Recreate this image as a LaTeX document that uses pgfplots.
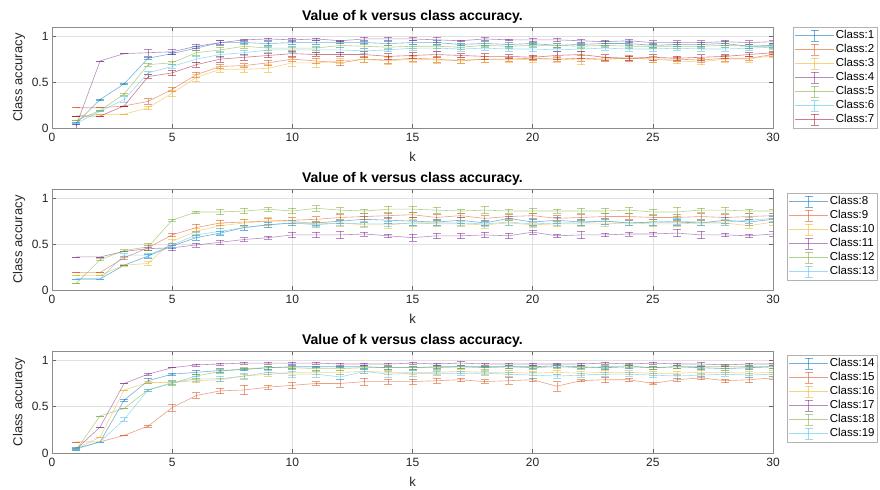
\documentclass[border=0pt]{standalone}
\usepackage{pgfplots}
\pgfplotsset{compat=1.18}
\usepackage{fontspec}
\setmainfont{Liberation Sans}
\definecolor{m1}{rgb}{0,0.447,0.741}
\definecolor{m2}{rgb}{0.85,0.325,0.098}
\definecolor{m3}{rgb}{0.929,0.694,0.125}
\definecolor{m4}{rgb}{0.494,0.184,0.556}
\definecolor{m5}{rgb}{0.466,0.674,0.188}
\definecolor{m6}{rgb}{0.301,0.745,0.933}
\definecolor{m7}{rgb}{0.635,0.078,0.184}
\pgfplotscreateplotcyclelist{mat}{m1\\m2\\m3\\m4\\m5\\m6\\m7\\}
\pgfplotsset{panel/.style={
  scale only axis, width=721bp, height=101bp,
  xmin=0, xmax=30, ymin=0, ymax=1.1,
  xtick={0,5,...,30}, ytick={0,0.5,1},
  grid=major, major grid style={black!12, line width=0.5bp},
  axis line style={black!45, line width=0.5bp},
  every tick/.style={black!60, line width=0.5bp},
  tick align=inside, major tick length=4bp,
  /pgf/number format/assume math mode=true,
  ticklabel style={font=\fontsize{12bp}{14bp}\selectfont, text=black!85},
  xticklabel style={yshift=-2bp},
  title={Value of k versus class accuracy.},
  title style={font=\fontsize{14bp}{16bp}\selectfont\bfseries, yshift=-6bp},
  xlabel={k}, ylabel={Class accuracy},
  label style={font=\fontsize{13bp}{15bp}\selectfont, text=black!85},
  xlabel style={yshift=-3bp},
  cycle list name=mat, no markers,
  every axis plot/.append style={line width=0.6bp, opacity=0.55},
  error bars/y dir=both, error bars/y explicit,
  error bars/error mark options={rotate=90, mark size=4bp, line width=0.6bp},
  legend cell align=left,
  legend style={draw=black!30, line width=0.5bp, fill=white,
    font=\fontsize{11.5bp}{13bp}\selectfont, anchor=north west, inner sep=1.5bp,
    nodes={inner sep=1.5bp, text height=8.5bp, text depth=2.5bp}},
  legend image code/.code={
    \draw[##1] (0bp,0bp) -- (39bp,0bp);
    \draw[##1] (19.5bp,-5.5bp) -- (19.5bp,5.5bp);
    \draw[##1] (15.5bp,-5.5bp) -- (23.5bp,-5.5bp);
    \draw[##1] (15.5bp,5.5bp) -- (23.5bp,5.5bp);
  },
}}
\begin{document}
\begin{tikzpicture}
\useasboundingbox (0,0) rectangle (880bp,490bp);
% ---------------- Panel 1 ----------------
\begin{axis}[panel, at={(52bp,362bp)}, anchor=south west,
  legend style={at={(1,1)}, xshift=20bp}]
\addplot coordinates {(1,.05)+-(0,.01) (2,.31)+-(0,.005) (3,.48)+-(0,.005) (4,.76)+-(0,.01) (5,.81)+-(0,.01) (6,.87)+-(0,.02) (7,.93)+-(0,.02) (8,.93)+-(0,.01) (9,.92)+-(0,.02) (10,.93)+-(0,.02) (11,.93)+-(0,.02) (12,.93)+-(0,.01) (13,.93)+-(0,.01) (14,.92)+-(0,.02) (15,.93)+-(0,.02) (16,.93)+-(0,.02) (17,.91)+-(0,.01) (18,.92)+-(0,.02) (19,.91)+-(0,.02) (20,.92)+-(0,.01) (21,.90)+-(0,.02) (22,.91)+-(0,.01) (23,.92)+-(0,.02) (24,.92)+-(0,.02) (25,.90)+-(0,.02) (26,.91)+-(0,.02) (27,.91)+-(0,.02) (28,.92)+-(0,.02) (29,.89)+-(0,.02) (30,.90)+-(0,.02)};
\addlegendentry{Class:1}
\addplot coordinates {(1,.22)+-(0,0) (2,.22)+-(0,0) (3,.24)+-(0,0) (4,.29)+-(0,.03) (5,.42)+-(0,.02) (6,.58)+-(0,.03) (7,.67)+-(0,.02) (8,.68)+-(0,.02) (9,.71)+-(0,.03) (10,.75)+-(0,.02) (11,.73)+-(0,.03) (12,.71)+-(0,.03) (13,.75)+-(0,.03) (14,.74)+-(0,.04) (15,.76)+-(0,.03) (16,.75)+-(0,.03) (17,.73)+-(0,.02) (18,.75)+-(0,.03) (19,.75)+-(0,.02) (20,.76)+-(0,.02) (21,.75)+-(0,.02) (22,.76)+-(0,.03) (23,.75)+-(0,.02) (24,.76)+-(0,.03) (25,.75)+-(0,.03) (26,.75)+-(0,.02) (27,.74)+-(0,.02) (28,.76)+-(0,.03) (29,.76)+-(0,.02) (30,.80)+-(0,.02)};
\addlegendentry{Class:2}
\addplot coordinates {(1,.13)+-(0,0) (2,.15)+-(0,0) (3,.15)+-(0,0) (4,.22)+-(0,.02) (5,.38)+-(0,.03) (6,.55)+-(0,.04) (7,.64)+-(0,.03) (8,.64)+-(0,.03) (9,.65)+-(0,.04) (10,.71)+-(0,.04) (11,.71)+-(0,.05) (12,.73)+-(0,.03) (13,.75)+-(0,.03) (14,.73)+-(0,.04) (15,.75)+-(0,.03) (16,.74)+-(0,.04) (17,.74)+-(0,.03) (18,.75)+-(0,.03) (19,.74)+-(0,.02) (20,.75)+-(0,.03) (21,.75)+-(0,.03) (22,.74)+-(0,.05) (23,.75)+-(0,.02) (24,.76)+-(0,.02) (25,.75)+-(0,.03) (26,.73)+-(0,.03) (27,.72)+-(0,.03) (28,.75)+-(0,.03) (29,.75)+-(0,.03) (30,.79)+-(0,.02)};
\addlegendentry{Class:3}
\addplot coordinates {(1,.02)+-(0,.02) (2,.73)+-(0,0) (3,.81)+-(0,0) (4,.82)+-(0,.04) (5,.83)+-(0,.03) (6,.89)+-(0,.02) (7,.93)+-(0,.03) (8,.96)+-(0,.01) (9,.97)+-(0,.01) (10,.96)+-(0,.02) (11,.97)+-(0,.01) (12,.95)+-(0,.01) (13,.97)+-(0,.02) (14,.97)+-(0,.02) (15,.97)+-(0,.02) (16,.96)+-(0,.03) (17,.95)+-(0,.01) (18,.97)+-(0,.02) (19,.96)+-(0,.01) (20,.96)+-(0,.02) (21,.96)+-(0,.02) (22,.95)+-(0,.02) (23,.94)+-(0,.02) (24,.95)+-(0,.02) (25,.93)+-(0,.02) (26,.93)+-(0,.02) (27,.93)+-(0,.02) (28,.94)+-(0,.02) (29,.93)+-(0,.02) (30,.94)+-(0,.02)};
\addlegendentry{Class:4}
\addplot coordinates {(1,.08)+-(0,0) (2,.19)+-(0,0) (3,.37)+-(0,.01) (4,.69)+-(0,.02) (5,.71)+-(0,.02) (6,.82)+-(0,.03) (7,.85)+-(0,.03) (8,.89)+-(0,.02) (9,.87)+-(0,.02) (10,.87)+-(0,.02) (11,.87)+-(0,.02) (12,.90)+-(0,.02) (13,.89)+-(0,.02) (14,.88)+-(0,.02) (15,.89)+-(0,.02) (16,.89)+-(0,.02) (17,.88)+-(0,.02) (18,.90)+-(0,.02) (19,.89)+-(0,.02) (20,.90)+-(0,.02) (21,.90)+-(0,.02) (22,.89)+-(0,.02) (23,.90)+-(0,.02) (24,.89)+-(0,.02) (25,.89)+-(0,.02) (26,.89)+-(0,.02) (27,.89)+-(0,.02) (28,.90)+-(0,.02) (29,.89)+-(0,.02) (30,.89)+-(0,.02)};
\addlegendentry{Class:5}
\addplot coordinates {(1,.05)+-(0,0) (2,.18)+-(0,0) (3,.31)+-(0,.03) (4,.60)+-(0,.02) (5,.67)+-(0,.02) (6,.75)+-(0,.03) (7,.80)+-(0,.03) (8,.82)+-(0,.03) (9,.85)+-(0,.03) (10,.85)+-(0,.03) (11,.85)+-(0,.03) (12,.85)+-(0,.03) (13,.84)+-(0,.03) (14,.85)+-(0,.02) (15,.87)+-(0,.02) (16,.87)+-(0,.03) (17,.86)+-(0,.02) (18,.87)+-(0,.02) (19,.86)+-(0,.02) (20,.86)+-(0,.03) (21,.85)+-(0,.02) (22,.86)+-(0,.02) (23,.87)+-(0,.02) (24,.86)+-(0,.02) (25,.86)+-(0,.02) (26,.87)+-(0,.02) (27,.86)+-(0,.02) (28,.86)+-(0,.02) (29,.87)+-(0,.02) (30,.88)+-(0,.02)};
\addlegendentry{Class:6}
\addplot coordinates {(1,.13)+-(0,0) (2,.13)+-(0,0) (3,.24)+-(0,0) (4,.56)+-(0,.02) (5,.60)+-(0,.03) (6,.69)+-(0,.03) (7,.75)+-(0,.03) (8,.77)+-(0,.03) (9,.79)+-(0,.02) (10,.81)+-(0,.03) (11,.80)+-(0,.02) (12,.80)+-(0,.02) (13,.80)+-(0,.03) (14,.78)+-(0,.03) (15,.79)+-(0,.03) (16,.80)+-(0,.03) (17,.79)+-(0,.02) (18,.78)+-(0,.03) (19,.78)+-(0,.02) (20,.77)+-(0,.02) (21,.79)+-(0,.04) (22,.80)+-(0,.04) (23,.77)+-(0,.03) (24,.76)+-(0,.02) (25,.77)+-(0,.03) (26,.76)+-(0,.02) (27,.77)+-(0,.03) (28,.78)+-(0,.02) (29,.80)+-(0,.02) (30,.82)+-(0,.02)};
\addlegendentry{Class:7}
\end{axis}
% ---------------- Panel 2 ----------------
\begin{axis}[panel, at={(52bp,200bp)}, anchor=south west,
  legend style={at={(1,1)}, xshift=14bp, yshift=-4bp}]
\addplot coordinates {(1,.12)+-(0,0) (2,.12)+-(0,0) (3,.27)+-(0,0) (4,.37)+-(0,.02) (5,.48)+-(0,.03) (6,.57)+-(0,.03) (7,.62)+-(0,.02) (8,.68)+-(0,.03) (9,.71)+-(0,.03) (10,.73)+-(0,.03) (11,.73)+-(0,.02) (12,.75)+-(0,.02) (13,.77)+-(0,.03) (14,.76)+-(0,.03) (15,.75)+-(0,.04) (16,.74)+-(0,.03) (17,.76)+-(0,.03) (18,.73)+-(0,.03) (19,.78)+-(0,.02) (20,.74)+-(0,.03) (21,.76)+-(0,.03) (22,.74)+-(0,.03) (23,.75)+-(0,.03) (24,.73)+-(0,.03) (25,.74)+-(0,.03) (26,.74)+-(0,.03) (27,.73)+-(0,.03) (28,.76)+-(0,.03) (29,.74)+-(0,.03) (30,.77)+-(0,.03)};
\addlegendentry{Class:8}
\addplot coordinates {(1,.19)+-(0,0) (2,.19)+-(0,0) (3,.35)+-(0,.02) (4,.46)+-(0,.03) (5,.60)+-(0,.02) (6,.68)+-(0,.04) (7,.73)+-(0,.03) (8,.74)+-(0,.03) (9,.75)+-(0,.03) (10,.76)+-(0,.03) (11,.77)+-(0,.03) (12,.79)+-(0,.03) (13,.80)+-(0,.03) (14,.81)+-(0,.03) (15,.82)+-(0,.03) (16,.79)+-(0,.03) (17,.81)+-(0,.02) (18,.78)+-(0,.03) (19,.80)+-(0,.02) (20,.81)+-(0,.03) (21,.78)+-(0,.03) (22,.79)+-(0,.03) (23,.80)+-(0,.03) (24,.80)+-(0,.03) (25,.79)+-(0,.02) (26,.79)+-(0,.03) (27,.80)+-(0,.03) (28,.79)+-(0,.03) (29,.80)+-(0,.03) (30,.81)+-(0,.03)};
\addlegendentry{Class:9}
\addplot coordinates {(1,.16)+-(0,0) (2,.16)+-(0,0) (3,.27)+-(0,.01) (4,.29)+-(0,.02) (5,.53)+-(0,.02) (6,.64)+-(0,.03) (7,.70)+-(0,.03) (8,.73)+-(0,.04) (9,.75)+-(0,.04) (10,.75)+-(0,.04) (11,.72)+-(0,.03) (12,.73)+-(0,.04) (13,.71)+-(0,.03) (14,.71)+-(0,.04) (15,.73)+-(0,.04) (16,.72)+-(0,.03) (17,.72)+-(0,.03) (18,.71)+-(0,.04) (19,.73)+-(0,.03) (20,.71)+-(0,.03) (21,.72)+-(0,.03) (22,.72)+-(0,.03) (23,.72)+-(0,.03) (24,.73)+-(0,.03) (25,.72)+-(0,.03) (26,.72)+-(0,.03) (27,.73)+-(0,.03) (28,.73)+-(0,.03) (29,.70)+-(0,.03) (30,.74)+-(0,.03)};
\addlegendentry{Class:10}
\addplot coordinates {(1,.36)+-(0,0) (2,.36)+-(0,0) (3,.42)+-(0,0) (4,.45)+-(0,.02) (5,.46)+-(0,.03) (6,.49)+-(0,.02) (7,.52)+-(0,.02) (8,.55)+-(0,.02) (9,.57)+-(0,.02) (10,.60)+-(0,.03) (11,.60)+-(0,.03) (12,.60)+-(0,.04) (13,.61)+-(0,.02) (14,.59)+-(0,.02) (15,.57)+-(0,.04) (16,.59)+-(0,.03) (17,.59)+-(0,.03) (18,.60)+-(0,.03) (19,.59)+-(0,.03) (20,.63)+-(0,.02) (21,.59)+-(0,.02) (22,.60)+-(0,.04) (23,.60)+-(0,.02) (24,.61)+-(0,.02) (25,.61)+-(0,.02) (26,.62)+-(0,.04) (27,.60)+-(0,.04) (28,.60)+-(0,.02) (29,.59)+-(0,.02) (30,.61)+-(0,.03)};
\addlegendentry{Class:11}
\addplot coordinates {(1,.07)+-(0,0) (2,.33)+-(0,.01) (3,.43)+-(0,.01) (4,.47)+-(0,.04) (5,.76)+-(0,.01) (6,.85)+-(0,.01) (7,.85)+-(0,.03) (8,.86)+-(0,.03) (9,.88)+-(0,.02) (10,.86)+-(0,.03) (11,.89)+-(0,.03) (12,.87)+-(0,.03) (13,.86)+-(0,.02) (14,.88)+-(0,.03) (15,.88)+-(0,.03) (16,.87)+-(0,.03) (17,.86)+-(0,.02) (18,.87)+-(0,.04) (19,.86)+-(0,.02) (20,.86)+-(0,.03) (21,.86)+-(0,.02) (22,.86)+-(0,.03) (23,.86)+-(0,.03) (24,.87)+-(0,.03) (25,.85)+-(0,.03) (26,.85)+-(0,.05) (27,.87)+-(0,.02) (28,.87)+-(0,.03) (29,.86)+-(0,.02) (30,.86)+-(0,.02)};
\addlegendentry{Class:12}
\addplot coordinates {(1,.12)+-(0,0) (2,.12)+-(0,0) (3,.38)+-(0,.02) (4,.38)+-(0,.02) (5,.49)+-(0,.02) (6,.60)+-(0,.03) (7,.64)+-(0,.03) (8,.68)+-(0,.03) (9,.71)+-(0,.03) (10,.73)+-(0,.03) (11,.71)+-(0,.03) (12,.73)+-(0,.03) (13,.72)+-(0,.03) (14,.72)+-(0,.03) (15,.73)+-(0,.03) (16,.73)+-(0,.03) (17,.73)+-(0,.03) (18,.72)+-(0,.03) (19,.74)+-(0,.03) (20,.72)+-(0,.03) (21,.73)+-(0,.03) (22,.73)+-(0,.03) (23,.75)+-(0,.03) (24,.73)+-(0,.03) (25,.74)+-(0,.03) (26,.75)+-(0,.03) (27,.74)+-(0,.03) (28,.74)+-(0,.03) (29,.76)+-(0,.03) (30,.78)+-(0,.03)};
\addlegendentry{Class:13}
\end{axis}
% ---------------- Panel 3 ----------------
\begin{axis}[panel, at={(52bp,37bp)}, anchor=south west, height=102bp,
  legend style={at={(1,1)}, xshift=14bp, yshift=-4bp}]
\addplot coordinates {(1,.05)+-(0,.01) (2,.12)+-(0,0) (3,.57)+-(0,.01) (4,.78)+-(0,.03) (5,.85)+-(0,.01) (6,.87)+-(0,.02) (7,.89)+-(0,.02) (8,.90)+-(0,.01) (9,.92)+-(0,.02) (10,.93)+-(0,.02) (11,.93)+-(0,.01) (12,.93)+-(0,.01) (13,.93)+-(0,.02) (14,.92)+-(0,.02) (15,.92)+-(0,.02) (16,.93)+-(0,.02) (17,.93)+-(0,.02) (18,.93)+-(0,.01) (19,.93)+-(0,.02) (20,.93)+-(0,.02) (21,.94)+-(0,.02) (22,.93)+-(0,.02) (23,.92)+-(0,.02) (24,.93)+-(0,.02) (25,.92)+-(0,.02) (26,.93)+-(0,.02) (27,.92)+-(0,.02) (28,.91)+-(0,.02) (29,.92)+-(0,.02) (30,.93)+-(0,.02)};
\addlegendentry{Class:14}
\addplot coordinates {(1,.12)+-(0,0) (2,.12)+-(0,0) (3,.19)+-(0,0) (4,.29)+-(0,.01) (5,.49)+-(0,.04) (6,.62)+-(0,.03) (7,.67)+-(0,.03) (8,.68)+-(0,.05) (9,.71)+-(0,.02) (10,.73)+-(0,.03) (11,.75)+-(0,.02) (12,.75)+-(0,.04) (13,.77)+-(0,.04) (14,.77)+-(0,.03) (15,.77)+-(0,.03) (16,.78)+-(0,.03) (17,.79)+-(0,.02) (18,.77)+-(0,.02) (19,.78)+-(0,.04) (20,.79)+-(0,.02) (21,.72)+-(0,.05) (22,.78)+-(0,.01) (23,.79)+-(0,.03) (24,.79)+-(0,.02) (25,.75)+-(0,.01) (26,.79)+-(0,.02) (27,.81)+-(0,.02) (28,.78)+-(0,.02) (29,.79)+-(0,.03) (30,.81)+-(0,.02)};
\addlegendentry{Class:15}
\addplot coordinates {(1,.05)+-(0,0) (2,.17)+-(0,0) (3,.68)+-(0,0) (4,.76)+-(0,.01) (5,.76)+-(0,.02) (6,.78)+-(0,.02) (7,.79)+-(0,.02) (8,.83)+-(0,.02) (9,.85)+-(0,.02) (10,.87)+-(0,.03) (11,.87)+-(0,.02) (12,.87)+-(0,.02) (13,.88)+-(0,.02) (14,.87)+-(0,.02) (15,.87)+-(0,.02) (16,.87)+-(0,.02) (17,.88)+-(0,.02) (18,.87)+-(0,.02) (19,.87)+-(0,.02) (20,.86)+-(0,.02) (21,.87)+-(0,.02) (22,.86)+-(0,.02) (23,.87)+-(0,.02) (24,.87)+-(0,.02) (25,.86)+-(0,.02) (26,.86)+-(0,.02) (27,.87)+-(0,.02) (28,.87)+-(0,.02) (29,.86)+-(0,.02) (30,.87)+-(0,.02)};
\addlegendentry{Class:16}
\addplot coordinates {(1,.04)+-(0,.01) (2,.28)+-(0,0) (3,.75)+-(0,0) (4,.85)+-(0,.01) (5,.92)+-(0,0) (6,.95)+-(0,.01) (7,.96)+-(0,.01) (8,.97)+-(0,.01) (9,.97)+-(0,.01) (10,.97)+-(0,.01) (11,.97)+-(0,.01) (12,.96)+-(0,.01) (13,.96)+-(0,.01) (14,.96)+-(0,.01) (15,.97)+-(0,.01) (16,.96)+-(0,.01) (17,.97)+-(0,.02) (18,.96)+-(0,.01) (19,.96)+-(0,.01) (20,.96)+-(0,.01) (21,.96)+-(0,.01) (22,.96)+-(0,.01) (23,.97)+-(0,.01) (24,.96)+-(0,.01) (25,.97)+-(0,.01) (26,.96)+-(0,.01) (27,.96)+-(0,.02) (28,.95)+-(0,.01) (29,.96)+-(0,.01) (30,.96)+-(0,.01)};
\addlegendentry{Class:17}
\addplot coordinates {(1,.03)+-(0,0) (2,.40)+-(0,0) (3,.48)+-(0,0) (4,.68)+-(0,.01) (5,.75)+-(0,.02) (6,.83)+-(0,.02) (7,.88)+-(0,.02) (8,.91)+-(0,.01) (9,.92)+-(0,.02) (10,.92)+-(0,.02) (11,.91)+-(0,.02) (12,.91)+-(0,.02) (13,.92)+-(0,.02) (14,.92)+-(0,.02) (15,.92)+-(0,.02) (16,.92)+-(0,.02) (17,.93)+-(0,.02) (18,.92)+-(0,.02) (19,.93)+-(0,.02) (20,.92)+-(0,.02) (21,.93)+-(0,.02) (22,.92)+-(0,.02) (23,.93)+-(0,.02) (24,.94)+-(0,.02) (25,.92)+-(0,.02) (26,.93)+-(0,.02) (27,.93)+-(0,.02) (28,.93)+-(0,.02) (29,.93)+-(0,.02) (30,.93)+-(0,.02)};
\addlegendentry{Class:18}
\addplot coordinates {(1,.04)+-(0,.01) (2,.12)+-(0,0) (3,.36)+-(0,.02) (4,.68)+-(0,.01) (5,.76)+-(0,.02) (6,.80)+-(0,.03) (7,.80)+-(0,.03) (8,.83)+-(0,.03) (9,.87)+-(0,.02) (10,.85)+-(0,.03) (11,.85)+-(0,.03) (12,.82)+-(0,.03) (13,.88)+-(0,.02) (14,.85)+-(0,.03) (15,.86)+-(0,.03) (16,.86)+-(0,.02) (17,.86)+-(0,.02) (18,.86)+-(0,.02) (19,.85)+-(0,.02) (20,.84)+-(0,.03) (21,.83)+-(0,.02) (22,.84)+-(0,.02) (23,.85)+-(0,.02) (24,.85)+-(0,.02) (25,.84)+-(0,.02) (26,.83)+-(0,.02) (27,.84)+-(0,.02) (28,.85)+-(0,.02) (29,.84)+-(0,.02) (30,.85)+-(0,.02)};
\addlegendentry{Class:19}
\end{axis}
\end{tikzpicture}
\end{document}
